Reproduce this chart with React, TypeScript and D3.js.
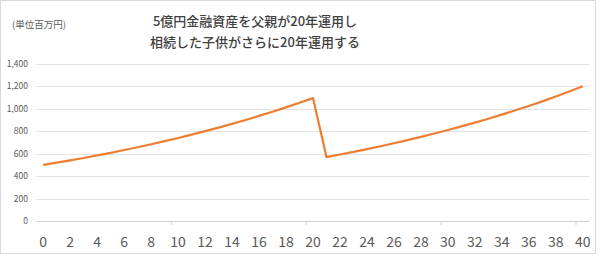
import React from "react";
import * as d3 from "d3";

const years: number[] = Array.from({ length: 41 }, (_, i) => i);
const assetValues: number[] = [
  500, 520, 541, 562, 585, 608, 633, 658, 684, 712, 740, 770, 801, 833, 866, 901, 937, 974, 1013, 1054, 1096,
  570, 593, 617, 641, 667, 693, 721, 750, 780, 811, 844, 877, 912, 949, 987, 1026, 1067, 1110, 1155, 1201,
];
const yTicks: number[] = [0, 200, 400, 600, 800, 1000, 1200, 1400];
const xLabelYears: number[] = [0, 2, 4, 6, 8, 10, 12, 14, 16, 18, 20, 22, 24, 26, 28, 30, 32, 34, 36, 38, 40];
const titleLines: string[] = ["5億円金融資産を父親が20年運用し", "相続した子供がさらに20年運用する"];
const unitLabel = "(単位百万円)";

export default function App() {
  const W = 600, H = 256;
  const left = 36.5, right = 589.5, top = 64, bottom = 221;
  const x = d3.scaleBand<number>().domain(years).range([left, right]);
  const xc = (v: number) => (x(v) as number) + x.bandwidth() / 2;
  const y = d3.scaleLinear().domain([0, 1400]).range([bottom, top]);
  const line = d3.line<number>().x((_, i) => xc(years[i])).y((d) => y(d));
  const font = "'Noto Sans CJK JP', 'Noto Sans', sans-serif";
  const tickBoundaries = [10, 20, 30, 40];
  return (
    <svg width={W} height={H} style={{ position: "absolute", left: 0, top: 0 }} fontFamily={font}>
      <rect x={0} y={0} width={W} height={H} fill="#fff" />
      <rect x={0.5} y={0.5} width={595} height={253} fill="none" stroke="#d9d9d9" />
      <text x={12} y={28} fontSize={9.5} fill="#595959">{unitLabel}</text>
      {titleLines.map((t, i) => (
        <text key={i} x={255} y={26 + i * 21} fontSize={13} fill="#404040" textAnchor="middle" fontWeight={500}>{t}</text>
      ))}
      {yTicks.map((t) => (
        <g key={t}>
          <line x1={left} x2={right} y1={Math.round(y(t)) + 0.5} y2={Math.round(y(t)) + 0.5} stroke={t === 0 ? "#d0d0d0" : "#e3e3e3"} strokeWidth={1} />
          <text x={28} y={y(t)} dy="0.35em" fontSize={8.5} fill="#595959" textAnchor="end">{d3.format(",")(t)}</text>
        </g>
      ))}
      {tickBoundaries.map((b) => (
        <line key={b} x1={x(b) as number} x2={x(b) as number} y1={bottom} y2={bottom + 4} stroke="#d0d0d0" />
      ))}
      {xLabelYears.map((v) => (
        <text key={v} x={xc(v)} y={242} dy="0.35em" fontSize={14} fill="#595959" textAnchor="middle">{v}</text>
      ))}
      <path d={line(assetValues) || ""} fill="none" stroke="#ED7D31" strokeWidth={2.2} strokeLinejoin="round" />
    </svg>
  );
}
